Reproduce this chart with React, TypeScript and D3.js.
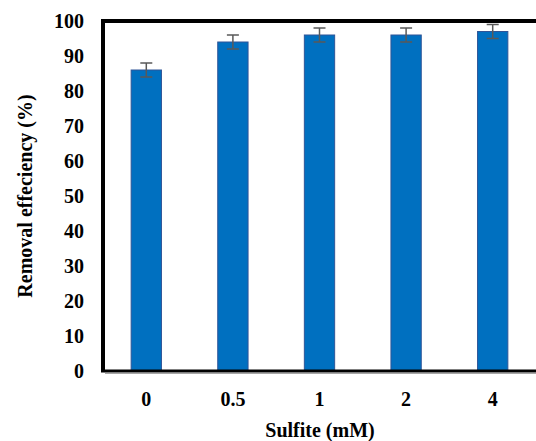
import React from 'react';
import * as d3 from 'd3';

const categories = ['0', '0.5', '1', '2', '4'];
const efficiency = [86, 94, 96, 96, 97];
const errors = [2, 2, 2, 2, 2];
const yTicks = [0, 10, 20, 30, 40, 50, 60, 70, 80, 90, 100];

const width = 536;
const height = 441;
const margin = { top: 21, right: 0, bottom: 70, left: 103 };

function App() {
  const x = d3
    .scaleBand<string>()
    .domain(categories)
    .range([margin.left, width - margin.right])
    .paddingInner(0.65)
    .paddingOuter(0.325);

  const y = d3
    .scaleLinear()
    .domain([0, 100])
    .range([height - margin.bottom, margin.top]);

  const capHalf = 6;

  return (
    <svg
      width={width}
      height={height}
      style={{ position: 'absolute', left: 0, top: 0, fontFamily: 'Liberation Serif', fontWeight: 700 }}
    >
      <rect width={width} height={height} fill="#fff" />

      {categories.map((c, i) => {
        const cx = x(c)! + x.bandwidth() / 2;
        const hi = y(efficiency[i] + errors[i]);
        const lo = y(efficiency[i] - errors[i]);
        return (
          <g key={c}>
            <rect
              x={x(c)}
              y={y(efficiency[i])}
              width={x.bandwidth()}
              height={y(0) - y(efficiency[i])}
              fill="#0070C0"
              stroke="#2F5597"
              strokeWidth={1}
            />
            <line x1={cx} x2={cx} y1={hi} y2={lo} stroke="#595959" strokeWidth={1.5} />
            <line x1={cx - capHalf} x2={cx + capHalf} y1={hi} y2={hi} stroke="#595959" strokeWidth={1.5} />
            <line x1={cx - capHalf} x2={cx + capHalf} y1={lo} y2={lo} stroke="#595959" strokeWidth={1.5} />
          </g>
        );
      })}

      {/* frame: top, left, bottom */}
      <line x1={margin.left - 2} x2={width} y1={y(100)} y2={y(100)} stroke="#000" strokeWidth={4} />
      <line x1={margin.left} x2={margin.left} y1={y(100) - 2} y2={y(0) + 1} stroke="#000" strokeWidth={4} />
      <line x1={margin.left - 2} x2={width} y1={y(0)} y2={y(0)} stroke="#000" strokeWidth={3} />
      <line x1={margin.left + 2} x2={width} y1={y(0) + 2.5} y2={y(0) + 2.5} stroke="#a6a6a6" strokeWidth={1} />

      {yTicks.map(t => (
        <text key={t} x={84} y={y(t)} dy="0.35em" textAnchor="end" fontSize={20} fill="#000">
          {t}
        </text>
      ))}

      {categories.map(c => (
        <text
          key={c}
          x={x(c)! + x.bandwidth() / 2}
          y={399}
          dy="0.35em"
          textAnchor="middle"
          fontSize={20}
          fill="#000"
        >
          {c}
        </text>
      ))}

      <text x={320} y={430} dy="0.35em" textAnchor="middle" fontSize={20} fill="#000">
        Sulfite (mM)
      </text>
      <text
        transform={`translate(25,${(y(0) + y(100)) / 2}) rotate(-90)`}
        dy="0.35em"
        textAnchor="middle"
        fontSize={20}
        fill="#000"
      >
        Removal effeciency (%)
      </text>
    </svg>
  );
}

export default App;
